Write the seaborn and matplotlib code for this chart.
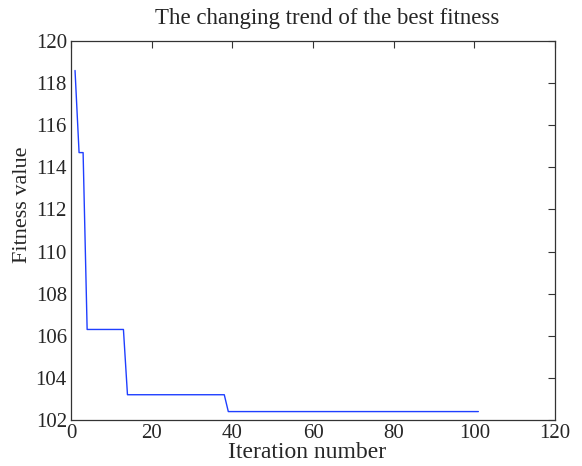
import matplotlib
matplotlib.use("Agg")
import matplotlib.pyplot as plt
import seaborn as sns
import pandas as pd

iterations = list(range(1, 102))
fitness = [118.6, 114.7, 114.7] + [106.3] * 10 + [103.2] * 25 + [102.4] * 63
x_ticks = [0, 20, 40, 60, 80, 100, 120]
y_ticks = [102, 104, 106, 108, 110, 112, 114, 116, 118, 120]

sns.set_style("white")
plt.rcParams['font.family'] = ['Liberation Serif', 'DejaVu Serif']

df = pd.DataFrame({"Iteration": iterations, "Fitness": fitness})

fig = plt.figure(figsize=(5.82, 4.66), dpi=100)
ax = fig.add_axes([71/582, 1-420/466, (555-71)/582, (420-41)/466])
sns.lineplot(data=df, x="Iteration", y="Fitness", ax=ax, color="#1f3fff", linewidth=1.0)
ax.set_xlim(0, 120)
ax.set_ylim(102, 120)
ax.set_xticks(x_ticks)
ax.set_yticks(y_ticks)
ax.tick_params(direction="in", top=True, right=True, length=5, width=0.8, labelsize=15, pad=3, color="#333333")
for s in ax.spines.values():
    s.set_color("#333333")
    s.set_linewidth(0.9)
ax.set_xlabel("Iteration number", fontsize=17)
ax.xaxis.set_label_coords(0.488, -0.058)
ax.set_ylabel("Fitness value", fontsize=16)
ax.yaxis.set_label_coords(-0.08, 0.567)
ax.set_title("The changing trend of the best fitness", fontsize=16.5, pad=12, x=0.53)
fig.savefig("out.png", dpi=100)
